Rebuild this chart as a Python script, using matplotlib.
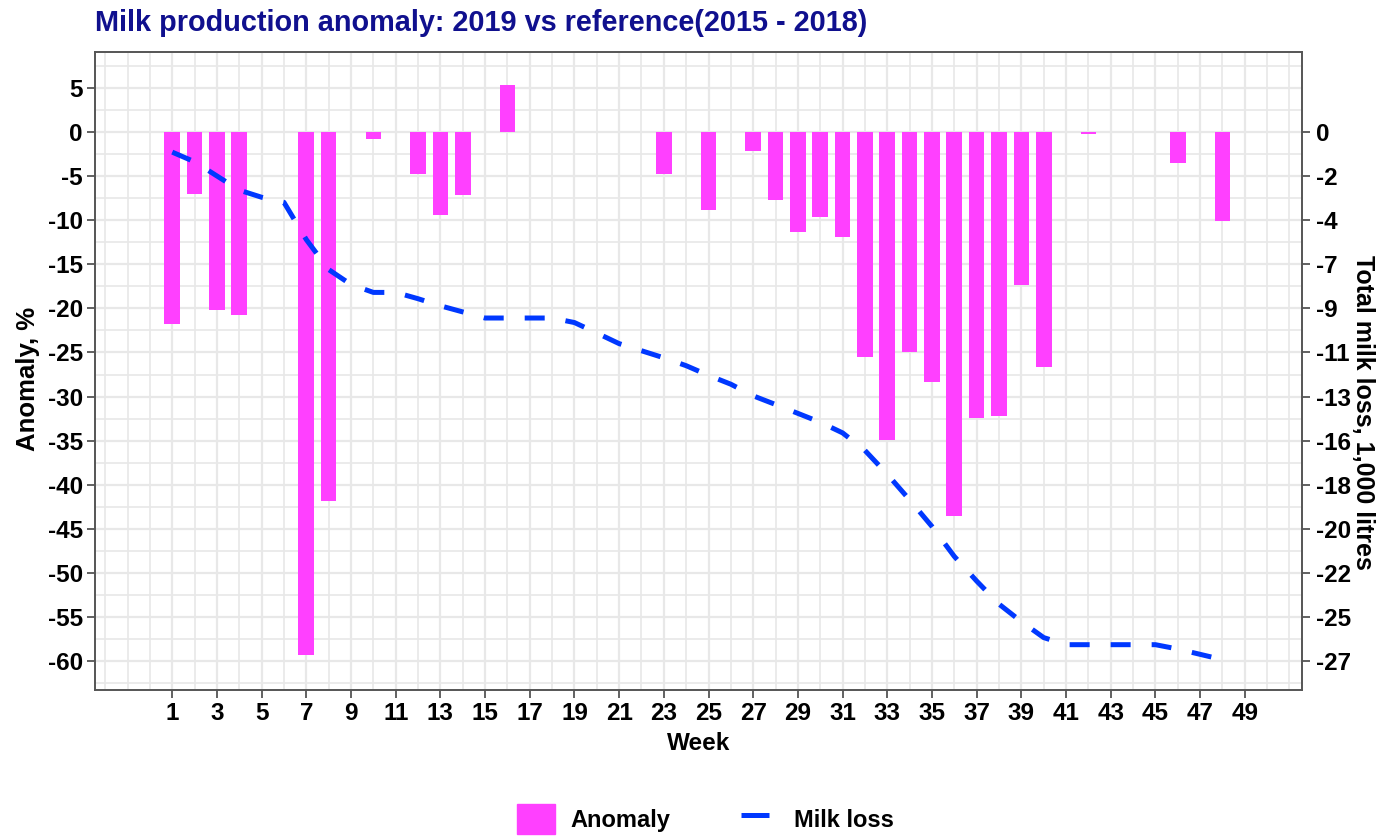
"""Milk production anomaly 2019 vs reference (2015-2018): weekly bars + cumulative loss line."""

import matplotlib

matplotlib.use("Agg")
import matplotlib.pyplot as plt
import numpy as np
from matplotlib.lines import Line2D
from matplotlib.patches import Patch

plt.rcParams["font.family"] = ["Liberation Sans", "DejaVu Sans"]
plt.rcParams["font.weight"] = "bold"
plt.rcParams["axes.unicode_minus"] = False

# weekly anomaly, % (weeks without a bar are left out)
bar_weeks = [1, 2, 3, 4, 7, 8, 10, 12, 13, 14, 16, 23, 25, 27, 28, 29, 30, 31,
             32, 33, 34, 35, 36, 37, 38, 39, 40, 42, 46, 48]
anomaly = [-21.8, -7.0, -20.2, -20.8, -59.3, -41.8, -0.8, -4.8, -9.4, -7.1, 5.3,
           -4.8, -8.8, -2.2, -7.7, -11.3, -9.6, -11.9, -25.5, -34.9, -24.9, -28.3,
           -43.5, -32.4, -32.2, -17.3, -26.6, -0.3, -3.5, -10.1]

# cumulative milk loss, 1,000 litres
loss_weeks = list(range(1, 49))
milk_loss = [-1.03, -1.52, -2.24, -2.96, -3.32, -3.58, -5.47, -6.99, -7.75, -8.15,
             -8.15, -8.47, -8.83, -9.14, -9.45, -9.45, -9.45, -9.45, -9.68, -10.21,
             -10.75, -11.11, -11.47, -11.87, -12.36, -12.81, -13.40, -13.84, -14.29,
             -14.74, -15.28, -16.17, -17.38, -18.68, -20.03, -21.55, -22.80, -23.97,
             -24.86, -25.67, -26.03, -26.03, -26.03, -26.03, -26.03, -26.25, -26.52,
             -26.79]

left_ticks = [5, 0, -5, -10, -15, -20, -25, -30, -35, -40, -45, -50, -55, -60]
right_ticks = [0, -5, -10, -15, -20, -25, -30, -35, -40, -45, -50, -55, -60]
right_labels = ["0", "-2", "-4", "-7", "-9", "-11", "-13", "-16", "-18", "-20",
                "-22", "-25", "-27"]
week_ticks = list(range(1, 50, 2))

SCALE = 0.448  # 1,000 litres per anomaly-% on the secondary axis
BAR = "#FF40FF"
LINE = "#0038FF"
GRID = "#E8E8E8"
EDGE = "#555555"

fig = plt.figure(figsize=(13.79, 8.38), dpi=100)
ax = fig.add_axes([0.069, 0.177, 0.875, 0.761])

ax.bar(bar_weeks, anomaly, width=0.7, color=BAR, zorder=2)

xlim = (-2.45, 51.55)
ylim = (-63.2, 9.05)
ax.set_xlim(*xlim)
ax.set_ylim(*ylim)
ax.set_xticks(week_ticks)
ax.set_xticks([w for w in range(-2, 52) if w not in week_ticks], minor=True)
ax.set_yticks(left_ticks)
ax.set_yticks(np.arange(7.5, -63, -5), minor=True)
ax.grid(True, which="major", color=GRID, lw=1.6, zorder=0)
ax.grid(True, which="minor", color=GRID, lw=1.2, zorder=0)
ax.set_axisbelow(True)
ax.tick_params(axis="both", which="major", labelsize=17.5, length=6, width=1.3,
               color=EDGE, pad=3)
ax.tick_params(axis="both", which="minor", length=0)
for s in ax.spines.values():
    s.set_color(EDGE)
    s.set_linewidth(1.2)
ax.set_xlabel("Week", fontsize=17.5, fontweight="bold", va="center")
ax.xaxis.set_label_coords(0.5, -0.085)
ax.set_ylabel("Anomaly, %", fontsize=18.5, fontweight="bold", va="center")
ax.yaxis.set_label_coords(-0.0555, 0.487)

ax2 = ax.twinx()
ax2.set_ylim(ylim[0] * SCALE, ylim[1] * SCALE)
ax2.plot(loss_weeks, milk_loss, color=LINE, lw=3.6, dashes=(4.0, 4.2),
         solid_capstyle="butt", dash_capstyle="butt", zorder=3)
ax2.set_yticks([t * SCALE for t in right_ticks], right_labels)
ax2.tick_params(axis="y", labelsize=17.5, length=6, width=1.3, color=EDGE, pad=4)
for s in ax2.spines.values():
    s.set_color(EDGE)
    s.set_linewidth(1.2)
ax2.set_ylabel("Total milk loss, 1,000 litres", fontsize=18, fontweight="bold",
               rotation=270, va="center", ha="center")
ax2.yaxis.set_label_coords(1.051, 0.435)

fig.text(0.069, 0.973, "Milk production anomaly: 2019 vs reference(2015 - 2018)",
         fontsize=20.8, fontweight="bold", color="#10108E", va="center", ha="left")

handles = [Patch(color=BAR),
           Line2D([0], [0], color=LINE, lw=3.6, dashes=(5.6, 10))]
fig.legend(handles, ["Anomaly", "Milk loss"], loc="center",
           bbox_to_anchor=(0.5116, 0.0225), ncol=2, frameon=False, fontsize=17,
           handlelength=1.6, handleheight=1.6, handletextpad=0.64,
           columnspacing=3.0, borderpad=0)

fig.savefig("out.png", dpi=100)
plt.close(fig)
